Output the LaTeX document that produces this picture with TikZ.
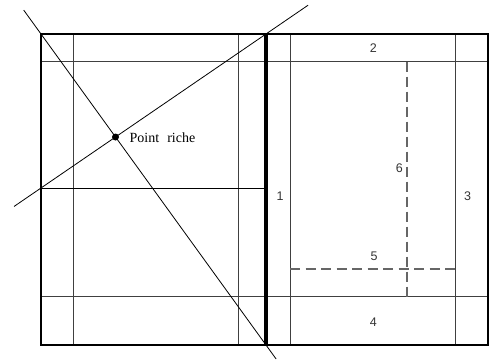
\documentclass[tikz,border=0pt]{standalone}
\usepackage{fontspec}
\setmainfont{Liberation Serif}
\setsansfont{Liberation Sans}
\usetikzlibrary{calc}
\begin{document}
\begin{tikzpicture}[x=1pt,y=-1pt,
  frame/.style={line width=2pt,black},
  spine/.style={line width=3.2pt,black},
  thin/.style={line width=1pt,black!75},
  guide/.style={line width=0.8pt,black},
  dashline/.style={line width=1.6pt,black!60,dash pattern=on 10pt off 5pt},
  num/.style={font=\sffamily\fontsize{12.5}{14}\selectfont,text=black!80,inner sep=0pt},
  lbl/.style={font=\fontsize{14}{16}\selectfont,inner sep=0pt,anchor=west}]
\useasboundingbox (0,0) rectangle (490,360);
% key coordinates
\coordinate (TL) at (41,34);
\coordinate (BR) at (488,345);
\coordinate (ST) at (266,34);
\coordinate (SB) at (266,345);
\coordinate (LM) at (41,188);
% thin grid lines
\draw[thin] (73,34) -- (73,345);
\draw[thin] (238,34) -- (238,345);
\draw[thin] (290,34) -- (290,345);
\draw[thin] (455,34) -- (455,345);
\draw[thin] (41,61.7) -- (488,61.7);
\draw[thin] (41,296.7) -- (488,296.7);
\draw[guide] (LM) -- (266,188);
% dashed lines
\draw[dashline] (406.7,61.7) -- (406.7,296.7);
\draw[dashline,dash pattern=on 10pt off 5.5pt] (290,268.7) -- (455,268.7);
% frame and spine
\draw[frame] (TL) rectangle (BR);
\draw[spine] (ST) -- (SB);
% diagonals
\draw[guide] ($(TL)!-0.077!(SB)$) -- ($(TL)!1.045!(SB)$);
\draw[guide] ($(LM)!-0.12!(ST)$) -- ($(LM)!1.187!(ST)$);
% point riche
\node[circle,fill=black,inner sep=0pt,minimum size=7pt] (P) at (115.5,137) {};
\node[lbl] (PL) at (129.5,137.5) {Point\hspace{8pt}riche};
% numbers
\node[num] (n2) at (373.3,47.7) {2};
\node[num] (n6) at (399.3,167.7) {6};
\node[num] (n1) at (280,195.7) {1};
\node[num] (n3) at (467.7,195.7) {3};
\node[num] (n5) at (374,256.3) {5};
\node[num] (n4) at (373.3,321.7) {4};
\end{tikzpicture}
\end{document}
